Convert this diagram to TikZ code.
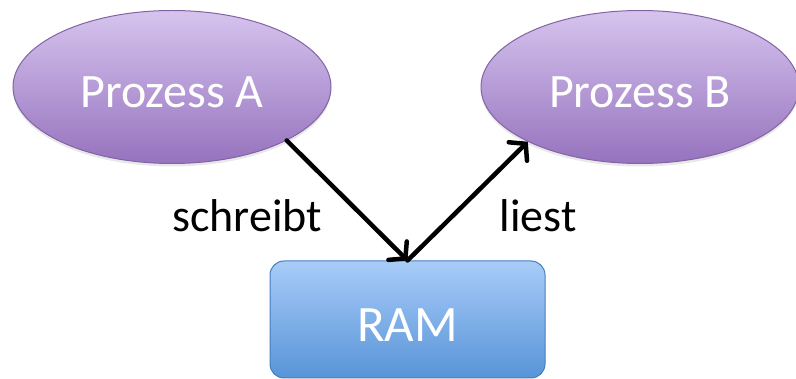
\documentclass[tikz,border=0pt]{standalone}
\usepackage{fontspec}
\setmainfont{Carlito}
\usetikzlibrary{shapes.geometric,arrows.meta,shadows}

\definecolor{procTop}{RGB}{214,196,238}
\definecolor{procBot}{RGB}{150,115,190}
\definecolor{procLine}{RGB}{130,100,165}
\definecolor{ramTop}{RGB}{168,204,248}
\definecolor{ramBot}{RGB}{88,148,216}
\definecolor{ramLine}{RGB}{72,124,192}

\tikzset{
  process/.style={ellipse, draw=procLine, line width=1pt,
    top color=procTop, bottom color=procBot,
    minimum width=318pt, minimum height=153pt, inner sep=0pt,
    text=white, font=\fontsize{48}{52}\selectfont,
    text height=42pt, text depth=0pt,
    drop shadow={opacity=0.18, shadow xshift=0pt, shadow yshift=-3pt}},
  memory/.style={rectangle, rounded corners=14pt, draw=ramLine, line width=1pt,
    top color=ramTop, bottom color=ramBot,
    minimum width=275pt, minimum height=117pt, inner sep=0pt,
    text=white, font=\fontsize{51}{55}\selectfont,
    text height=45pt, text depth=0pt},
  flow/.style={line width=4.5pt, line cap=round, line join=round,
    -{Straight Barb[length=11pt, width=26pt, line cap=round]}},
  verb/.style={font=\fontsize{46}{50}\selectfont, anchor=base}
}

\begin{document}
\begin{tikzpicture}[x=1pt, y=-1pt]
  \useasboundingbox (0,0) rectangle (796,379);

  % the two processes and the shared memory
  \node[process] (A) at (172,87) {Prozess A};
  \node[process] (B) at (640,87) {Prozess B};
  \node[memory]  (ram) at (407.5,319.5) {RAM};

  % write and read accesses
  \draw[flow] (A.-25) -- (ram.north);
  \draw[flow] (ram.north) -- (B.206);

  \node[verb] (w) at (247,232) {schreibt};
  \node[verb] (r) at (538,232) {liest};
\end{tikzpicture}
\end{document}
